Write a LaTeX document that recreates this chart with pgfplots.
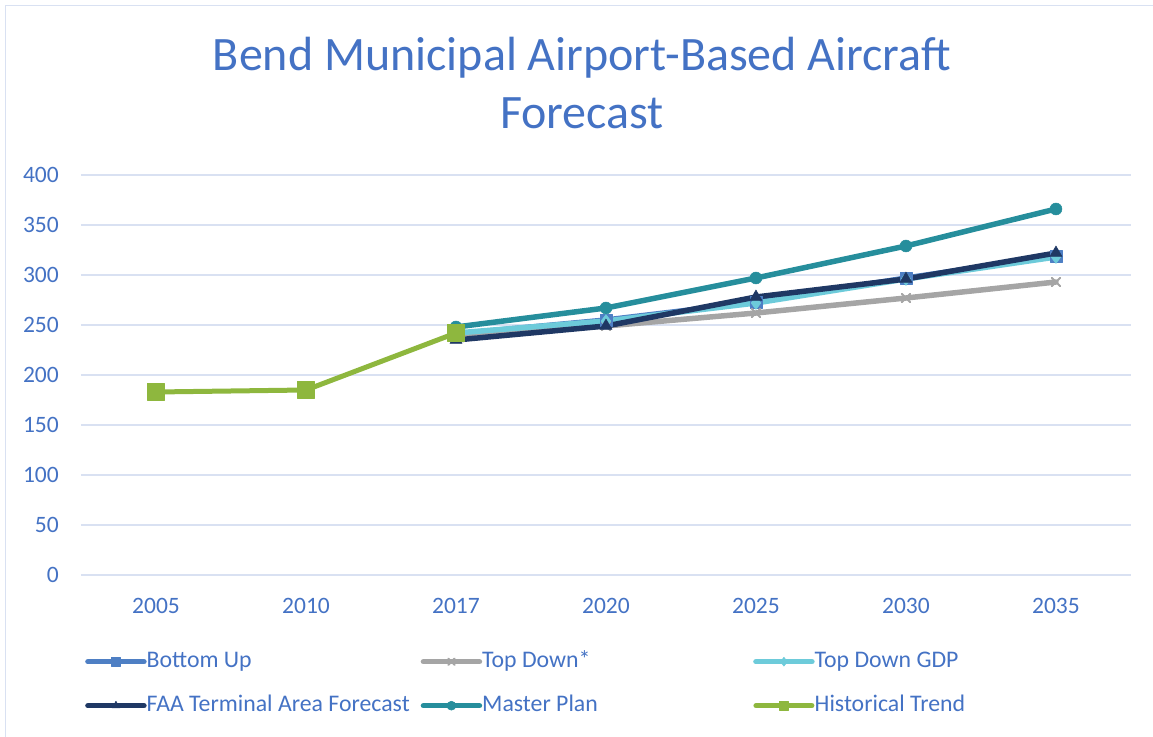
\documentclass[border=0pt]{standalone}
\usepackage{pgfplots}
\pgfplotsset{compat=1.18}
\usepackage{fontspec}
\setmainfont{Carlito}
\definecolor{txt}{HTML}{4472C4}
\definecolor{gridc}{HTML}{D9E1F2}
\definecolor{framec}{HTML}{D9E1F2}
\definecolor{cBU}{HTML}{4E7FC4}
\definecolor{cTD}{HTML}{A5A5A5}
\definecolor{cGDP}{HTML}{6DCBDA}
\definecolor{cFAA}{HTML}{1F3864}
\definecolor{cMP}{HTML}{268E9C}
\definecolor{cHT}{HTML}{8EB73E}
\begin{document}
\begin{tikzpicture}[x=1pt,y=1pt]
\useasboundingbox (0,0) rectangle (1153,736);
\draw[framec, line width=1.5pt] (5.5,730.5) rectangle (1170,-20);
\node[anchor=base, text=txt, font=\fontsize{48}{56}\selectfont, inner sep=0pt] at (582,665) {Bend Municipal Airport-Based Aircraft};
\node[anchor=base, text=txt, font=\fontsize{48}{56}\selectfont, inner sep=0pt] at (582,607.5) {Forecast};
\begin{axis}[
  at={(81pt,161pt)}, anchor=south west,
  scale only axis, width=1050pt, height=400pt,
  xmin=-0.5, xmax=6.5, ymin=0, ymax=400,
  xtick={0,1,2,3,4,5,6},
  xticklabels={2005,2010,2017,2020,2025,2030,2035},
  ytick={0,50,100,150,200,250,300,350,400},
  yticklabels={0,50,100,150,200,250,300,350,400},
  axis line style={draw=none},
  ymajorgrids, grid style={gridc, line width=1.5pt},
  major tick length=0pt,
  tick label style={text=txt, font=\fontsize{23.5}{28}\selectfont},
  yticklabel style={anchor=east, inner sep=0pt, xshift=-22pt},
  xticklabel style={anchor=north, inner sep=0pt, yshift=-23pt},
  clip=false,
  legend columns=3,
  legend cell align=left,
  legend style={at={(axis description cs:0.0038,-0.1875)}, anchor=north west,
    draw=none, fill=none, inner sep=0pt, column sep=0pt, row sep=21pt,
    font=\fontsize{23.8}{28}\selectfont, text=txt,
    nodes={inner sep=0pt, text height=17pt, text depth=6pt}},
  legend image code/.code={\draw[mark repeat=2,mark phase=2,#1, mark size=4.5pt] plot coordinates {(0pt,0pt) (28pt,0pt) (56pt,0pt)};},
  every axis plot/.append style={line width=5.5pt, line join=round, line cap=round},
]
\addplot[color=cBU, mark=square*, mark size=6pt, mark options={line width=0.5pt}] coordinates {(2,241) (3,255) (4,273) (5,297) (6,319)};
\addlegendentry{\makebox[274pt][l]{Bottom Up}}
\addplot[color=cTD, mark=x, mark size=6pt, mark options={line width=2pt}] coordinates {(2,241) (3,249) (4,262) (5,277) (6,293)};
\addlegendentry{\makebox[271pt][l]{Top Down*}}
\addplot[color=cGDP, mark=diamond*, mark size=6.5pt, mark options={line width=0.5pt}] coordinates {(2,242) (3,254) (4,272) (5,296) (6,318)};
\addlegendentry{\makebox[200pt][l]{Top Down GDP}}
\addplot[color=cFAA, mark=triangle*, mark size=7pt, mark options={line width=0.5pt}] coordinates {(2,235) (3,249) (4,278) (5,296) (6,322)};
\addlegendentry{\makebox[274pt][l]{FAA Terminal Area Forecast}}
\addplot[color=cMP, mark=*, mark size=6pt, mark options={line width=0.5pt}] coordinates {(2,248) (3,267) (4,297) (5,329) (6,366)};
\addlegendentry{\makebox[271pt][l]{Master Plan}}
\addplot[color=cHT, line width=5pt, mark=square*, mark size=8.5pt, mark options={line width=0.5pt}] coordinates {(0,183) (1,185) (2,242)};
\addlegendentry{\makebox[200pt][l]{Historical Trend}}
\end{axis}
\end{tikzpicture}
\end{document}
